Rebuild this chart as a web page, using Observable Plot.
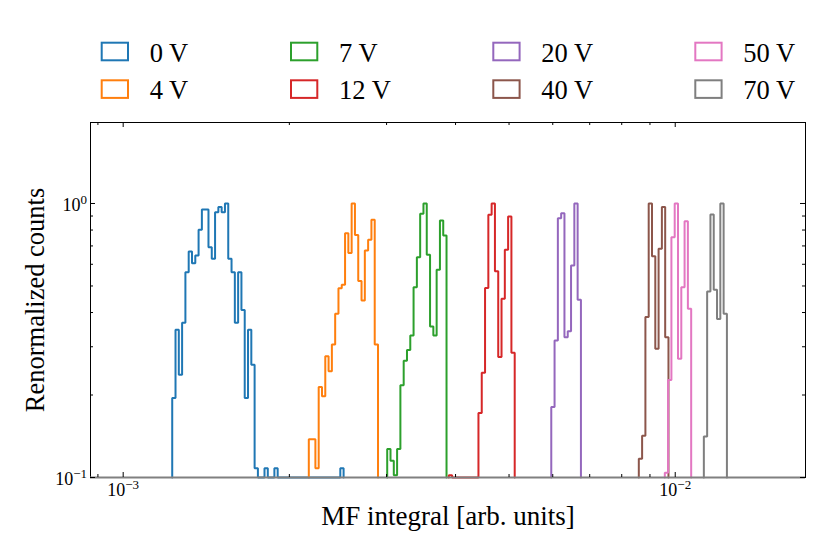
<!DOCTYPE html>
<html>
<head>
<meta charset="utf-8">
<script src="https://cdn.jsdelivr.net/npm/d3@7"></script>
<script src="https://cdn.jsdelivr.net/npm/@observablehq/plot@0.6"></script>
<style>
  html, body { margin: 0; padding: 0; background: #fff; }
  #chart { width: 830px; font-family: "Liberation Serif", serif; }
  #chart svg { display: block; }
</style>
</head>
<body>
<div id="chart"></div>
<script>
// ---------- data ----------
const labels = ["0 V", "4 V", "7 V", "12 V", "20 V", "40 V", "50 V", "70 V"];
const colors = ["#1f77b4", "#ff7f0e", "#2ca02c", "#d62728", "#9467bd", "#8c564b", "#e377c2", "#7f7f7f"];
// left edge of the first histogram bin of each series (MF integral)
const binStarts = [0.001227, 0.002169, 0.003008, 0.003889, 0.005963, 0.008591, 0.009575, 0.011268];
// histogram bins are equally spaced in log10 (width in decades)
const binWidthDecades = 0.00597;
// renormalized counts per bin (0 = empty bin)
const counts0V = [0.195, 0.346, 0.237, 0.367, 0.561, 0.668, 0.605, 0.646, 0.802, 0.951,
  0.951, 0.693, 0.629, 0.930, 0.970, 0.930, 1.0, 0.629, 0.561, 0.367,
  0.561, 0.409, 0.195, 0.346, 0.258, 0.108, 0, 0, 0.108, 0,
  0, 0.108, 0, 0, 0, 0, 0, 0, 0, 0,
  0, 0, 0, 0, 0, 0, 0, 0, 0, 0,
  0, 0.108];
const counts4V = [0.138, 0.138, 0.108, 0.214, 0.198, 0.277, 0.244, 0.306, 0.396, 0.491,
  0.505, 0.779, 0.659, 1.0, 0.768, 0.521, 0.443, 0.674, 0.737, 0.872, 0.306];
const counts7V = [0.127, 0.115, 0.102, 0.127, 0.217, 0.267, 0.292, 0.330, 0.495, 0.637,
  0.917, 1.0, 0.650, 0.356, 0.330, 0.573, 0.867, 0.764];
const counts12V = [0.102, 0, 0, 0, 0, 0, 0, 0, 0, 0.172, 0.241, 0.492, 0.909, 1.0, 0.566,
  0.275, 0.449, 0.678, 0.897, 0.285];
const counts20V = [0.181, 0.316, 0.884, 0.922, 0.325, 0.342, 0.594, 1.0, 0.445];
const counts40V = [0.117, 0.142, 0.385, 1.0, 0.642, 0.295, 0.683, 0.970, 0.325];
const counts50V = [0.104, 0.227, 0.753, 1.0, 0.271, 0.495, 0.862, 0.413];
const counts70V = [0.141, 0.477, 0.912, 0.484, 0.379, 1.0, 0.396];
const allCounts = [counts0V, counts4V, counts7V, counts12V, counts20V, counts40V, counts50V, counts70V];

const xMajor = [0.001, 0.01];
const xMinor = [0.0009, 0.002, 0.003, 0.004, 0.005, 0.006, 0.007, 0.008, 0.009];
const yMajor = [0.1, 1];
const yMinor = [0.2, 0.3, 0.4, 0.5, 0.6, 0.7, 0.8, 0.9];
const xDomain = [0.0008726, 0.017218];
const yDomain = [0.1, 1.975];
const xLabel = "MF integral [arb. units]";
const yLabel = "Renormalized counts";

// ---------- layout ----------
const W = 830, LEG_H = 110, H = 444;
const mLeft = 90, mRight = 25, mTop = 12, mBottom = 77;
const frameW = W - mLeft - mRight, frameH = H - mTop - mBottom;
const decX = frameW / Math.log10(xDomain[1] / xDomain[0]);
const decY = frameH / Math.log10(yDomain[1] / yDomain[0]);
const majLen = 5, minLen = 3;

// step outline of a histogram
function stepPoints(start, vals, series) {
  const floor = yDomain[0];
  const edge = i => start * Math.pow(10, i * binWidthDecades);
  const pts = [{series, x: edge(0), y: floor}];
  vals.forEach((v, i) => {
    const y = v > 0 ? v : floor;
    pts.push({series, x: edge(i), y});
    pts.push({series, x: edge(i + 1), y});
  });
  pts.push({series, x: edge(vals.length), y: floor});
  return pts;
}

// ---------- legend ----------
const legendCols = [100.7, 290, 492.3, 694.3];
const legendRows = [41.7, 79.3];
const leg = d3.select("#chart").append("svg")
  .attr("width", W).attr("height", LEG_H)
  .attr("font-family", "Liberation Serif, serif");
labels.forEach((lab, i) => {
  const col = Math.floor(i / 2), row = i % 2;
  const x = legendCols[col], y = legendRows[row];
  leg.append("rect")
    .attr("x", x + 1).attr("y", y + 1)
    .attr("width", 26.3).attr("height", 17.6)
    .attr("fill", "none").attr("stroke", colors[i]).attr("stroke-width", 2);
  leg.append("text")
    .attr("x", x + 49).attr("y", y + 19.8)
    .attr("font-size", 26.5).attr("fill", "#000")
    .text(lab);
});

// ---------- plot ----------
const marks = [];
allCounts.forEach((vals, i) => {
  marks.push(Plot.line(stepPoints(binStarts[i], vals, labels[i]), {
    x: "x", y: "y", stroke: colors[i], strokeWidth: 2, strokeLinejoin: "miter"
  }));
});
marks.push(Plot.frame({stroke: "#000", strokeWidth: 1}));
marks.push(Plot.ruleY([yDomain[0]], {stroke: "#808080", strokeWidth: 2}));

// inward ticks on all four sides
const kx = (len) => Math.pow(10, len / decX);
const ky = (len) => Math.pow(10, len / decY);
for (const [ticks, len] of [[xMajor, majLen], [xMinor, minLen]]) {
  marks.push(Plot.ruleX(ticks, {y1: yDomain[0], y2: yDomain[0] * ky(len), stroke: "#000", strokeWidth: 1}));
  marks.push(Plot.ruleX(ticks, {y1: yDomain[1] / ky(len), y2: yDomain[1], stroke: "#000", strokeWidth: 1}));
}
for (const [ticks, len] of [[yMajor, majLen], [yMinor, minLen]]) {
  marks.push(Plot.ruleY(ticks, {x1: xDomain[0], x2: xDomain[0] * kx(len), stroke: "#000", strokeWidth: 1}));
  marks.push(Plot.ruleY(ticks, {x1: xDomain[1] / kx(len), x2: xDomain[1], stroke: "#000", strokeWidth: 1}));
}
const expFmt = d => "10^" + Math.round(Math.log10(d));
marks.push(Plot.axisX({ticks: xMajor, tickSize: 0, tickPadding: 5.5, tickFormat: expFmt, fontSize: 18, label: null}));
marks.push(Plot.axisY({ticks: yMajor, tickSize: 0, tickPadding: 3.5, dy: 1.5, tickFormat: expFmt, fontSize: 18, label: null}));
marks.push(Plot.text([xLabel], {frameAnchor: "bottom", dy: 47, lineAnchor: "bottom", textAnchor: "middle", fontSize: 27, fill: "#000"}));
marks.push(Plot.text([yLabel], {frameAnchor: "left", dx: -47, rotate: -90, lineAnchor: "bottom", textAnchor: "middle", fontSize: 26.5, fill: "#000"}));

const svg = Plot.plot({
  width: W, height: H,
  marginLeft: mLeft, marginRight: mRight, marginTop: mTop, marginBottom: mBottom,
  style: {fontFamily: "Liberation Serif, serif", background: "#fff", color: "#000", overflow: "visible"},
  x: {type: "log", domain: xDomain, axis: null},
  y: {type: "log", domain: yDomain, axis: null},
  marks
});

// superscript exponents in tick labels
d3.select(svg).selectAll("text").each(function() {
  const t = this.textContent;
  if (this.children.length === 0 && /^10\^-?\d+$/.test(t)) {
    const e = t.split("^")[1].replace("-", "\u2212");
    const sel = d3.select(this);
    sel.attr("font-size", 18).style("font-size", "18px").attr("fill", "#000");
    sel.text("10");
    sel.append("tspan").attr("dy", -7).attr("font-size", 13).style("font-size", "13px").text(e);
  }
});
document.getElementById("chart").appendChild(svg);
</script>
</body>
</html>
